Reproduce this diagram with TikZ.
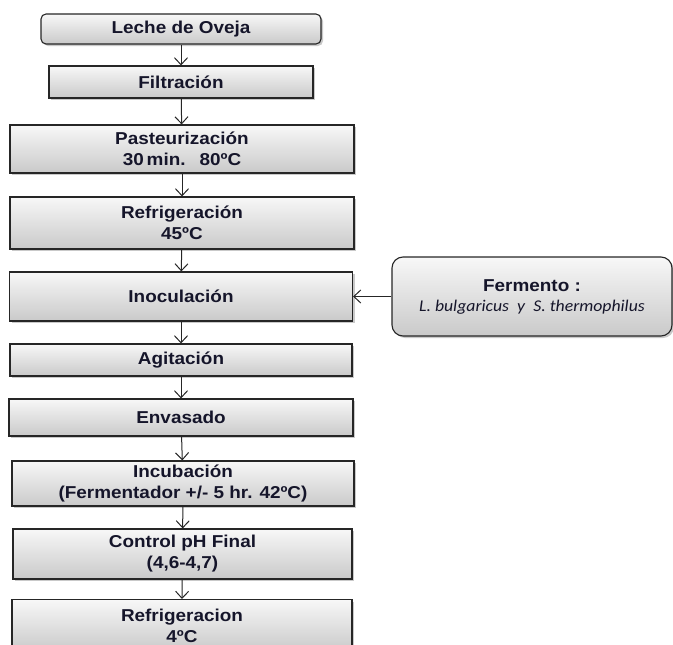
\documentclass[tikz,border=0pt]{standalone}
\usepackage{fontspec}
\setmainfont{Liberation Sans}[FakeStretch=1.1]
\newfontfamily\calfont{Carlito}[FakeStretch=1.08]
\usetikzlibrary{arrows.meta,shadows}
\definecolor{txt}{HTML}{15152A}
\definecolor{edge}{HTML}{262626}
\tikzset{
  stepbox/.style={draw=edge, line width=1.1pt, top color=gray!6, bottom color=gray!42,
    drop shadow={shadow xshift=2pt, shadow yshift=-2pt, fill=gray!60, opacity=.7},
    align=center, text=txt, font=\fontsize{17.2}{21}\selectfont\bfseries, inner sep=0pt},
  roundbox/.style={stepbox, rounded corners=5pt},
  flow/.style={draw=edge, line width=1pt, -{Straight Barb[length=7pt,width=13pt,line width=1pt]}}
}
\begin{document}
\begin{tikzpicture}[x=1pt,y=-1pt]
\useasboundingbox (0,0) rectangle (673,645);
\node[roundbox, minimum width=280, minimum height=30] (n1) at (181,29) {Leche de Oveja};
\node[stepbox, minimum width=264, minimum height=32] (n2) at (181,82) {Filtración};
\node[stepbox, minimum width=344, minimum height=48] (n3) at (182,149) {Pasteurización\\30\,min.\hspace{14pt}80ºC};
\node[stepbox, minimum width=344, minimum height=52] (n4) at (182,223) {Refrigeración\\45ºC};
\node[stepbox, minimum width=343, minimum height=49] (n5) at (181,296.5) {Inoculación};
\node[stepbox, minimum width=342, minimum height=32] (n6) at (181,360) {Agitación};
\node[stepbox, minimum width=344, minimum height=37] (n7) at (181,417.5) {Envasado};
\node[stepbox, minimum width=342, minimum height=45] (n8) at (183,483.5) {Incubación\\(Fermentador +/- 5 hr. 42ºC)};
\node[stepbox, minimum width=339, minimum height=50] (n9) at (182.5,554) {Control pH Final\\(4,6-4,7)};
\node[stepbox, minimum width=340, minimum height=52, anchor=north] (n10) at (182,599) {Refrigeracion\\4ºC};
\node[stepbox, rounded corners=11pt, minimum width=280, minimum height=79] (f) at (532,296.5)
  {Fermento :\\[-1pt]{\calfont\mdseries\itshape\fontsize{16.4}{19}\selectfont L. bulgaricus\enspace y\enspace S. thermophilus}};
\draw[flow] (n1) -- (n2);
\draw[flow] (n2) -- (n3);
\draw[flow] (n3) -- (n4);
\draw[flow] (n4) -- (n5);
\draw[flow] (n5) -- (n6);
\draw[flow] (n6) -- (n7);
\draw[flow] (n7) -- (n8);
\draw[flow] (n8) -- (n9);
\draw[flow] (n9) -- (n10.north);
\draw[flow] (f) -- (n5);
\end{tikzpicture}
\end{document}
